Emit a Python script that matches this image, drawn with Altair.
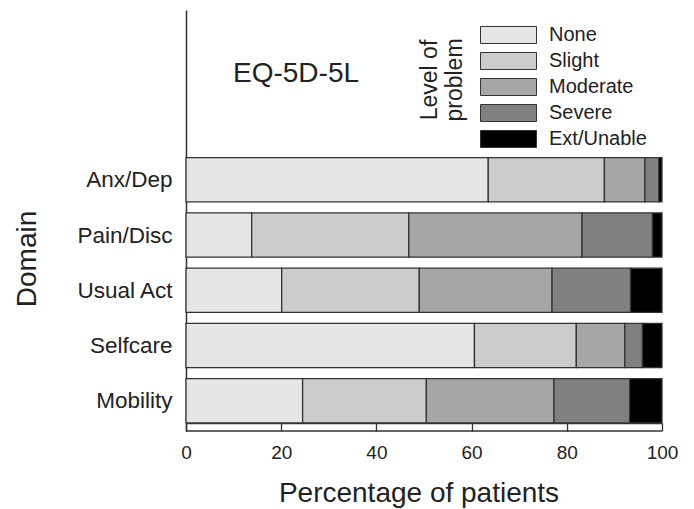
import json
import altair as alt
import pandas as pd

# ---- data ----
domains = ['Mobility', 'Selfcare', 'Usual Act', 'Pain/Disc', 'Anx/Dep']
levels = ['None', 'Slight', 'Moderate', 'Severe', 'Ext/Unable']
none_pct = [24.5, 60.6, 20.1, 13.8, 63.5]
slight_pct = [26.0, 21.4, 28.9, 33.0, 24.4]
moderate_pct = [26.8, 10.2, 27.9, 36.4, 8.5]
severe_pct = [15.9, 3.7, 16.5, 14.8, 2.9]
ext_pct = [6.8, 4.1, 6.6, 2.0, 0.7]
level_colors = ['#e6e6e6', '#cccccc', '#a6a6a6', '#808080', '#000000']
x_ticks = [0, 20, 40, 60, 80, 100]
chart_title = 'EQ-5D-5L'
legend_title_lines = ['Level of', 'problem']
x_title = 'Percentage of patients'
y_title = 'Domain'

series = [none_pct, slight_pct, moderate_pct, severe_pct, ext_pct]
rows = []
for li, (lev, vals) in enumerate(zip(levels, series)):
    for di, (dom, v) in enumerate(zip(domains, vals)):
        rows.append({'domain': dom, 'idx': di, 'level': lev, 'order': li, 'value': v})
df = pd.DataFrame(rows)

FONT = 'Liberation Sans'
TXT = '#222222'
LINE = '#333333'
W, H = 476, 421

label_expr = json.dumps(domains) + '[datum.value]'

bars = (
    alt.Chart(df)
    .transform_window(cum='sum(value)', groupby=['domain'],
                      sort=[alt.SortField('order')], frame=[None, 0])
    .transform_calculate(x0='datum.cum - datum.value',
                         ylo='datum.idx - 0.4', yhi='datum.idx + 0.4')
    .mark_bar(stroke=LINE, strokeWidth=1.3)
    .encode(
        x=alt.X('x0:Q', scale=alt.Scale(domain=[0, 100], nice=False),
                axis=alt.Axis(values=x_ticks, offset=-8, tickSize=8, tickColor=LINE,
                              tickWidth=1.3, domainColor=LINE, domainWidth=1.3,
                              labelFontSize=19, labelPadding=12, labelColor=TXT,
                              labelFlush=False, title=None, grid=False, format='d')),
        x2='cum:Q',
        y=alt.Y('ylo:Q', scale=alt.Scale(domain=[-0.547, 7.073], nice=False, zero=False),
                axis=alt.Axis(values=[0, 1, 2, 3, 4], labelExpr=label_expr, ticks=False,
                              grid=False, domainColor=LINE, domainWidth=1.5,
                              labelFontSize=22.5, labelPadding=14, labelColor=TXT,
                              title=None)),
        y2='yhi:Q',
        color=alt.Color('level:N', sort=levels,
                        scale=alt.Scale(domain=levels, range=level_colors),
                        legend=alt.Legend(title=None, orient='none', legendX=294, legendY=12,
                                          symbolType='M-1,-0.304H1V0.304H-1Z',
                                          symbolSize=3136, symbolStrokeColor=LINE,
                                          symbolStrokeWidth=1, symbolOpacity=1,
                                          labelFontSize=20, labelColor=TXT, labelOffset=12,
                                          clipHeight=26, rowPadding=0, padding=0)),
    )
)

one = pd.DataFrame({'a': [0]})

bottom_line = alt.Chart(one).mark_rule(color=LINE, strokeWidth=1.3).encode(
    x=alt.value(0), x2=alt.value(W), y=alt.value(H))

title_text = alt.Chart(one).mark_text(
    text=chart_title, fontSize=28, color=TXT, align='center', baseline='alphabetic', font=FONT
).encode(x=alt.value(110), y=alt.value(72))

legend_title = alt.Chart(one).mark_text(
    text=legend_title_lines, fontSize=23, color=TXT, align='center', baseline='alphabetic',
    angle=270, lineHeight=25, font=FONT
).encode(x=alt.value(251), y=alt.value(70))

x_title_text = alt.Chart(one).mark_text(
    text=x_title, fontSize=28, color=TXT, align='center', baseline='alphabetic', font=FONT
).encode(x=alt.value(233), y=alt.value(492))

y_title_text = alt.Chart(one).mark_text(
    text=y_title, fontSize=28, color=TXT, align='center', baseline='alphabetic',
    angle=270, font=FONT
).encode(x=alt.value(-150), y=alt.value(249))

chart = (
    alt.layer(bars, bottom_line, title_text, legend_title, x_title_text, y_title_text)
    .properties(width=W, height=H, autosize=alt.AutoSizeParams(type='none'),
                padding={'left': 178, 'top': 2, 'right': 24, 'bottom': 78})
    .configure(font=FONT)
    .configure_view(stroke=None)
    .configure_axis(labelFont=FONT, titleFont=FONT)
    .configure_legend(labelFont=FONT)
)

chart.save('out.html', embed_options={'renderer': 'svg', 'actions': False})
